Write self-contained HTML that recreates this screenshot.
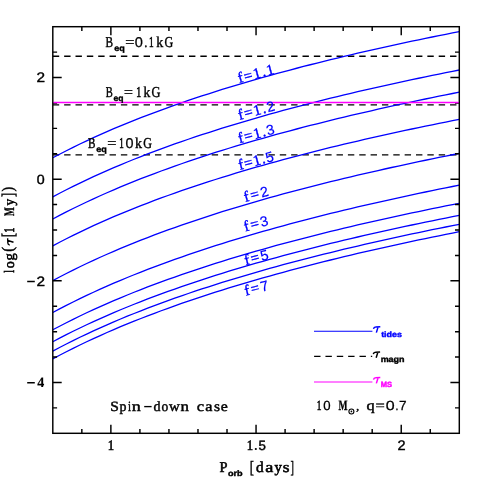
<!DOCTYPE html><html><head><meta charset="utf-8"><style>html,body{margin:0;padding:0;background:#fff}svg{display:block;will-change:transform;}text{text-rendering:geometricPrecision}</style></head><body>
<svg width="485" height="485" viewBox="0 0 485 485">
<rect width="485" height="485" fill="#fff"/>
<clipPath id="c"><rect x="52.8" y="26.7" width="406.5" height="406.6"/></clipPath>
<g stroke="#000" stroke-width="1.4" fill="none" stroke-dasharray="6.4 4.95">
<path d="M52.8 56.3H456.7"/>
<path d="M52.8 104.9H456.7"/>
<path d="M52.8 154.9H456.7"/>
</g>
<g stroke="#00f" stroke-width="1.3" fill="none" clip-path="url(#c)">
<path d="M52.80 157.80L59.57 154.21L66.35 150.73L73.12 147.34L79.90 144.03L86.68 140.82L93.45 137.68L100.22 134.62L107.00 131.64L113.77 128.72L120.55 125.87L127.32 123.09L134.10 120.36L140.88 117.69L147.65 115.08L154.42 112.53L161.20 110.02L167.98 107.56L174.75 105.16L181.53 102.79L188.30 100.47L195.07 98.19L201.85 95.96L208.62 93.76L215.40 91.60L222.18 89.48L228.95 87.39L235.73 85.34L242.50 83.32L249.27 81.34L256.05 79.38L262.83 77.45L269.60 75.56L276.37 73.69L283.15 71.85L289.93 70.04L296.70 68.25L303.48 66.49L310.25 64.75L317.02 63.03L323.80 61.34L330.58 59.67L337.35 58.03L344.12 56.40L350.90 54.80L357.67 53.22L364.45 51.65L371.23 50.11L378.00 48.58L384.78 47.08L391.55 45.59L398.32 44.12L405.10 42.66L411.88 41.22L418.65 39.80L425.43 38.40L432.20 37.01L438.98 35.63L445.75 34.27L452.53 32.93L459.30 31.60"/>
<path d="M52.80 196.90L59.57 193.29L66.35 189.79L73.12 186.38L79.90 183.06L86.68 179.82L93.45 176.67L100.22 173.59L107.00 170.59L113.77 167.66L120.55 164.79L127.32 161.99L134.10 159.25L140.88 156.57L147.65 153.95L154.42 151.38L161.20 148.86L167.98 146.39L174.75 143.96L181.53 141.59L188.30 139.25L195.07 136.96L201.85 134.72L208.62 132.51L215.40 130.34L222.18 128.20L228.95 126.10L235.73 124.04L242.50 122.01L249.27 120.01L256.05 118.04L262.83 116.11L269.60 114.20L276.37 112.32L283.15 110.47L289.93 108.65L296.70 106.85L303.48 105.08L310.25 103.33L317.02 101.61L323.80 99.91L330.58 98.23L337.35 96.57L344.12 94.94L350.90 93.33L357.67 91.74L364.45 90.16L371.23 88.61L378.00 87.08L384.78 85.56L391.55 84.06L398.32 82.58L405.10 81.12L411.88 79.68L418.65 78.25L425.43 76.84L432.20 75.44L438.98 74.06L445.75 72.69L452.53 71.34L459.30 70.00"/>
<path d="M52.80 219.05L59.57 215.44L66.35 211.94L73.12 208.53L79.90 205.21L86.68 201.97L93.45 198.82L100.22 195.74L107.00 192.74L113.77 189.81L120.55 186.94L127.32 184.14L134.10 181.40L140.88 178.72L147.65 176.10L154.42 173.53L161.20 171.01L167.98 168.54L174.75 166.11L181.53 163.74L188.30 161.40L195.07 159.11L201.85 156.87L208.62 154.66L215.40 152.49L222.18 150.35L228.95 148.25L235.73 146.19L242.50 144.16L249.27 142.16L256.05 140.19L262.83 138.26L269.60 136.35L276.37 134.47L283.15 132.62L289.93 130.80L296.70 129.00L303.48 127.23L310.25 125.48L317.02 123.76L323.80 122.06L330.58 120.38L337.35 118.72L344.12 117.09L350.90 115.48L357.67 113.89L364.45 112.31L371.23 110.76L378.00 109.23L384.78 107.71L391.55 106.21L398.32 104.73L405.10 103.27L411.88 101.83L418.65 100.40L425.43 98.99L432.20 97.59L438.98 96.21L445.75 94.84L452.53 93.49L459.30 92.15"/>
<path d="M52.80 245.85L59.57 242.25L66.35 238.76L73.12 235.36L79.90 232.05L86.68 228.83L93.45 225.68L100.22 222.62L107.00 219.62L113.77 216.70L120.55 213.85L127.32 211.05L134.10 208.32L140.88 205.65L147.65 203.03L154.42 200.47L161.20 197.96L167.98 195.49L174.75 193.08L181.53 190.71L188.30 188.39L195.07 186.10L201.85 183.86L208.62 181.66L215.40 179.50L222.18 177.37L228.95 175.28L235.73 173.22L242.50 171.20L249.27 169.20L256.05 167.24L262.83 165.31L269.60 163.41L276.37 161.54L283.15 159.69L289.93 157.88L296.70 156.08L303.48 154.32L310.25 152.58L317.02 150.86L323.80 149.16L330.58 147.49L337.35 145.84L344.12 144.21L350.90 142.60L357.67 141.02L364.45 139.45L371.23 137.90L378.00 136.37L384.78 134.86L391.55 133.37L398.32 131.90L405.10 130.44L411.88 129.00L418.65 127.57L425.43 126.16L432.20 124.77L438.98 123.39L445.75 122.03L452.53 120.68L459.30 119.35"/>
<path d="M52.80 280.60L59.57 276.99L66.35 273.47L73.12 270.05L79.90 266.72L86.68 263.48L93.45 260.32L100.22 257.24L107.00 254.23L113.77 251.29L120.55 248.42L127.32 245.61L134.10 242.86L140.88 240.18L147.65 237.55L154.42 234.97L161.20 232.44L167.98 229.97L174.75 227.54L181.53 225.16L188.30 222.82L195.07 220.52L201.85 218.27L208.62 216.05L215.40 213.88L222.18 211.74L228.95 209.64L235.73 207.57L242.50 205.53L249.27 203.53L256.05 201.56L262.83 199.62L269.60 197.71L276.37 195.82L283.15 193.97L289.93 192.14L296.70 190.34L303.48 188.56L310.25 186.81L317.02 185.08L323.80 183.38L330.58 181.70L337.35 180.04L344.12 178.40L350.90 176.78L357.67 175.19L364.45 173.61L371.23 172.05L378.00 170.52L384.78 169.00L391.55 167.50L398.32 166.01L405.10 164.55L411.88 163.10L418.65 161.67L425.43 160.25L432.20 158.85L438.98 157.47L445.75 156.10L452.53 154.74L459.30 153.40"/>
<path d="M52.80 312.55L59.57 308.93L66.35 305.41L73.12 301.99L79.90 298.65L86.68 295.41L93.45 292.24L100.22 289.15L107.00 286.14L113.77 283.19L120.55 280.32L127.32 277.51L134.10 274.76L140.88 272.06L147.65 269.43L154.42 266.85L161.20 264.32L167.98 261.84L174.75 259.40L181.53 257.02L188.30 254.68L195.07 252.38L201.85 250.12L208.62 247.90L215.40 245.72L222.18 243.58L228.95 241.47L235.73 239.40L242.50 237.36L249.27 235.36L256.05 233.38L262.83 231.44L269.60 229.53L276.37 227.64L283.15 225.78L289.93 223.95L296.70 222.15L303.48 220.37L310.25 218.61L317.02 216.88L323.80 215.18L330.58 213.49L337.35 211.83L344.12 210.19L350.90 208.57L357.67 206.97L364.45 205.39L371.23 203.83L378.00 202.29L384.78 200.77L391.55 199.27L398.32 197.78L405.10 196.32L411.88 194.87L418.65 193.43L425.43 192.01L432.20 190.61L438.98 189.22L445.75 187.85L452.53 186.49L459.30 185.15"/>
<path d="M52.80 329.80L59.57 326.20L66.35 322.71L73.12 319.31L79.90 316.00L86.68 312.78L93.45 309.63L100.22 306.57L107.00 303.57L113.77 300.65L120.55 297.80L127.32 295.00L134.10 292.27L140.88 289.60L147.65 286.98L154.42 284.42L161.20 281.91L167.98 279.44L174.75 277.03L181.53 274.66L188.30 272.34L195.07 270.05L201.85 267.81L208.62 265.61L215.40 263.45L222.18 261.32L228.95 259.23L235.73 257.17L242.50 255.15L249.27 253.15L256.05 251.19L262.83 249.26L269.60 247.36L276.37 245.49L283.15 243.64L289.93 241.83L296.70 240.03L303.48 238.27L310.25 236.53L317.02 234.81L323.80 233.11L330.58 231.44L337.35 229.79L344.12 228.16L350.90 226.55L357.67 224.97L364.45 223.40L371.23 221.85L378.00 220.32L384.78 218.81L391.55 217.32L398.32 215.85L405.10 214.39L411.88 212.95L418.65 211.52L425.43 210.11L432.20 208.72L438.98 207.34L445.75 205.98L452.53 204.63L459.30 203.30"/>
<path d="M52.80 341.75L59.57 338.16L66.35 334.67L73.12 331.27L79.90 327.96L86.68 324.74L93.45 321.60L100.22 318.54L107.00 315.55L113.77 312.62L120.55 309.77L127.32 306.98L134.10 304.25L140.88 301.58L147.65 298.97L154.42 296.40L161.20 293.89L167.98 291.43L174.75 289.02L181.53 286.65L188.30 284.33L195.07 282.05L201.85 279.81L208.62 277.61L215.40 275.45L222.18 273.32L228.95 271.23L235.73 269.18L242.50 267.15L249.27 265.16L256.05 263.21L262.83 261.28L269.60 259.38L276.37 257.51L283.15 255.66L289.93 253.85L296.70 252.06L303.48 250.29L310.25 248.55L317.02 246.83L323.80 245.14L330.58 243.47L337.35 241.82L344.12 240.19L350.90 238.59L357.67 237.00L364.45 235.43L371.23 233.89L378.00 232.36L384.78 230.85L391.55 229.36L398.32 227.89L405.10 226.43L411.88 224.99L418.65 223.57L425.43 222.16L432.20 220.77L438.98 219.39L445.75 218.03L452.53 216.68L459.30 215.35"/>
<path d="M52.80 351.10L59.57 347.50L66.35 343.99L73.12 340.59L79.90 337.27L86.68 334.04L93.45 330.89L100.22 327.81L107.00 324.81L113.77 321.88L120.55 319.02L127.32 316.22L134.10 313.48L140.88 310.80L147.65 308.18L154.42 305.61L161.20 303.09L167.98 300.63L174.75 298.20L181.53 295.83L188.30 293.50L195.07 291.21L201.85 288.96L208.62 286.76L215.40 284.59L222.18 282.46L228.95 280.36L235.73 278.30L242.50 276.27L249.27 274.27L256.05 272.31L262.83 270.37L269.60 268.47L276.37 266.59L283.15 264.74L289.93 262.92L296.70 261.12L303.48 259.35L310.25 257.60L317.02 255.88L323.80 254.18L330.58 252.51L337.35 250.85L344.12 249.22L350.90 247.61L357.67 246.02L364.45 244.45L371.23 242.90L378.00 241.36L384.78 239.85L391.55 238.35L398.32 236.88L405.10 235.41L411.88 233.97L418.65 232.54L425.43 231.13L432.20 229.73L438.98 228.35L445.75 226.99L452.53 225.64L459.30 224.30"/>
<path d="M52.80 358.90L59.57 355.29L66.35 351.77L73.12 348.35L79.90 345.02L86.68 341.78L93.45 338.62L100.22 335.54L107.00 332.53L113.77 329.59L120.55 326.72L127.32 323.91L134.10 321.16L140.88 318.48L147.65 315.85L154.42 313.27L161.20 310.74L167.98 308.27L174.75 305.84L181.53 303.46L188.30 301.12L195.07 298.82L201.85 296.57L208.62 294.35L215.40 292.18L222.18 290.04L228.95 287.94L235.73 285.87L242.50 283.83L249.27 281.83L256.05 279.86L262.83 277.92L269.60 276.01L276.37 274.12L283.15 272.27L289.93 270.44L296.70 268.64L303.48 266.86L310.25 265.11L317.02 263.38L323.80 261.68L330.58 260.00L337.35 258.34L344.12 256.70L350.90 255.08L357.67 253.49L364.45 251.91L371.23 250.35L378.00 248.82L384.78 247.30L391.55 245.80L398.32 244.31L405.10 242.85L411.88 241.40L418.65 239.97L425.43 238.55L432.20 237.15L438.98 235.77L445.75 234.40L452.53 233.04L459.30 231.70"/>
</g>
<g stroke="#000" stroke-width="1.45" fill="none">
<rect x="52.8" y="26.7" width="406.50" height="406.60"/>
<path d="M81.84 433.3v-4.3M81.84 26.7v4.3M110.87 433.3v-8.6M110.87 26.7v8.6M139.91 433.3v-4.3M139.91 26.7v4.3M168.94 433.3v-4.3M168.94 26.7v4.3M197.98 433.3v-4.3M197.98 26.7v4.3M227.01 433.3v-4.3M227.01 26.7v4.3M256.05 433.3v-8.6M256.05 26.7v8.6M285.09 433.3v-4.3M285.09 26.7v4.3M314.12 433.3v-4.3M314.12 26.7v4.3M343.16 433.3v-4.3M343.16 26.7v4.3M372.19 433.3v-4.3M372.19 26.7v4.3M401.23 433.3v-8.6M401.23 26.7v8.6M430.26 433.3v-4.3M430.26 26.7v4.3M52.8 407.89h4.3M459.3 407.89h-4.3M52.8 382.48h8.9M459.3 382.48h-8.9M52.8 357.06h4.3M459.3 357.06h-4.3M52.8 331.65h4.3M459.3 331.65h-4.3M52.8 306.24h4.3M459.3 306.24h-4.3M52.8 280.82h8.9M459.3 280.82h-8.9M52.8 255.41h4.3M459.3 255.41h-4.3M52.8 230.00h4.3M459.3 230.00h-4.3M52.8 204.59h4.3M459.3 204.59h-4.3M52.8 179.18h8.9M459.3 179.18h-8.9M52.8 153.76h4.3M459.3 153.76h-4.3M52.8 128.35h4.3M459.3 128.35h-4.3M52.8 102.94h4.3M459.3 102.94h-4.3M52.8 77.53h8.9M459.3 77.53h-8.9M52.8 52.11h4.3M459.3 52.11h-4.3"/>
</g>
<path d="M53.5 102.5H458.6" stroke="#f0f" stroke-width="1.45"/>
<text transform="translate(36.48 82.40) scale(1.113 1)" font-size="13.80" style="font-family:'Liberation Sans',sans-serif" fill="#000" stroke="#000" stroke-width="0.4">2</text>
<text transform="translate(36.76 183.59) scale(1.063 1)" font-size="13.36" style="font-family:'Liberation Sans',sans-serif" fill="#000" stroke="#000" stroke-width="0.4">0</text>
<text transform="translate(36.48 285.50) scale(1.125 1)" font-size="13.65" style="font-family:'Liberation Sans',sans-serif" fill="#000" stroke="#000" stroke-width="0.4">2</text>
<text transform="translate(37.20 387.40) scale(0.972 1)" font-size="14.44" style="font-family:'Liberation Serif',sans-serif" fill="#000" stroke="#000" stroke-width="0.1" font-weight="bold">4</text>
<path d="M27.2 281.6H34.8M27.2 382.7H34.8" stroke="#000" stroke-width="1.5"/>
<text transform="translate(107.70 450.00) scale(0.896 1)" font-size="14.29" style="font-family:'Liberation Serif',sans-serif" fill="#000" stroke="#000" stroke-width="0.6">1</text>
<text transform="translate(246.80 450.00) scale(0.896 1)" font-size="14.29" style="font-family:'Liberation Serif',sans-serif" fill="#000" stroke="#000" stroke-width="0.6">1</text>
<rect x="254.9" y="448.1" width="1.8" height="1.8"/>
<text transform="translate(258.59 449.79) scale(0.989 1)" font-size="13.36" style="font-family:'Liberation Sans',sans-serif" fill="#000" stroke="#000" stroke-width="0.45">5</text>
<text transform="translate(397.42 449.90) scale(1.052 1)" font-size="13.80" style="font-family:'Liberation Sans',sans-serif" fill="#000" stroke="#000" stroke-width="0.4">2</text>
<text transform="translate(114.28 51.099999999999994) scale(1.081 1)" font-size="8.4" style="font-family:'Liberation Sans',sans-serif" letter-spacing="0" fill="#000" stroke="#000" stroke-width="0.35" font-weight="bold">eq</text>
<text transform="translate(105.52 46.8) scale(0.755 1)" font-size="15" style="font-family:'Liberation Serif',sans-serif" letter-spacing="0" fill="#000" stroke="#000" stroke-width="0.42">B</text>
<text transform="translate(125.14 46.8) scale(1.081 1)" font-size="15" style="font-family:'Liberation Serif',sans-serif" letter-spacing="0" fill="#000" stroke="#000" stroke-width="0.42">=</text>
<text transform="translate(134.84 46.8) scale(1.030 1)" font-size="14.174999999999999" style="font-family:'Liberation Sans',sans-serif" letter-spacing="0" fill="#000" stroke="#000" stroke-width="0.25">0</text>
<text transform="translate(144.20 46.8) scale(0.853 1)" font-size="15" style="font-family:'Liberation Serif',sans-serif" letter-spacing="0" fill="#000" stroke="#000" stroke-width="0.42">.</text>
<text transform="translate(149.07 46.8) scale(0.622 1)" font-size="15" style="font-family:'Liberation Serif',sans-serif" letter-spacing="0" fill="#000" stroke="#000" stroke-width="0.62">1</text>
<text transform="translate(156.18 46.8) scale(0.936 1)" font-size="15" style="font-family:'Liberation Serif',sans-serif" letter-spacing="0" fill="#000" stroke="#000" stroke-width="0.42">k</text>
<text transform="translate(164.62 46.8) scale(0.804 1)" font-size="15" style="font-family:'Liberation Serif',sans-serif" letter-spacing="0" fill="#000" stroke="#000" stroke-width="0.42">G</text>
<text transform="translate(113.49 101.2) scale(1.025 1)" font-size="8.4" style="font-family:'Liberation Sans',sans-serif" letter-spacing="0" fill="#000" stroke="#000" stroke-width="0.35" font-weight="bold">eq</text>
<text transform="translate(105.64 96.9) scale(0.700 1)" font-size="15" style="font-family:'Liberation Serif',sans-serif" letter-spacing="0" fill="#000" stroke="#000" stroke-width="0.42">B</text>
<text transform="translate(124.06 96.9) scale(1.052 1)" font-size="15" style="font-family:'Liberation Serif',sans-serif" letter-spacing="0" fill="#000" stroke="#000" stroke-width="0.42">=</text>
<text transform="translate(136.33 96.9) scale(0.658 1)" font-size="15" style="font-family:'Liberation Serif',sans-serif" letter-spacing="0" fill="#000" stroke="#000" stroke-width="0.62">1</text>
<text transform="translate(143.39 96.9) scale(0.908 1)" font-size="15" style="font-family:'Liberation Serif',sans-serif" letter-spacing="0" fill="#000" stroke="#000" stroke-width="0.42">k</text>
<text transform="translate(151.61 96.9) scale(0.824 1)" font-size="15" style="font-family:'Liberation Serif',sans-serif" letter-spacing="0" fill="#000" stroke="#000" stroke-width="0.42">G</text>
<text transform="translate(96.28 152.3) scale(1.081 1)" font-size="8.4" style="font-family:'Liberation Sans',sans-serif" letter-spacing="0" fill="#000" stroke="#000" stroke-width="0.35" font-weight="bold">eq</text>
<text transform="translate(87.93 148.0) scale(0.744 1)" font-size="15" style="font-family:'Liberation Serif',sans-serif" letter-spacing="0" fill="#000" stroke="#000" stroke-width="0.42">B</text>
<text transform="translate(107.14 148.0) scale(1.081 1)" font-size="15" style="font-family:'Liberation Serif',sans-serif" letter-spacing="0" fill="#000" stroke="#000" stroke-width="0.42">=</text>
<text transform="translate(119.19 148.0) scale(0.604 1)" font-size="15" style="font-family:'Liberation Serif',sans-serif" letter-spacing="0" fill="#000" stroke="#000" stroke-width="0.62">1</text>
<text transform="translate(125.55 148.0) scale(1.016 1)" font-size="14.174999999999999" style="font-family:'Liberation Sans',sans-serif" letter-spacing="0" fill="#000" stroke="#000" stroke-width="0.25">0</text>
<text transform="translate(134.88 148.0) scale(0.936 1)" font-size="15" style="font-family:'Liberation Serif',sans-serif" letter-spacing="0" fill="#000" stroke="#000" stroke-width="0.42">k</text>
<text transform="translate(143.32 148.0) scale(0.804 1)" font-size="15" style="font-family:'Liberation Serif',sans-serif" letter-spacing="0" fill="#000" stroke="#000" stroke-width="0.42">G</text>
<text transform="translate(239.1 83.1) rotate(-15.0)" x="0.07" font-size="15" style="font-family:'Liberation Serif',serif" letter-spacing="1.233" fill="#00f" stroke="#00f" stroke-width="0.4">f=1.1</text>
<text transform="translate(239.4 120.0) rotate(-15.0)" x="0.07" font-size="15" style="font-family:'Liberation Serif',serif" letter-spacing="1.233" fill="#00f" stroke="#00f" stroke-width="0.4">f=1.<tspan style="font-family:'Liberation Sans',sans-serif" font-size="14.2" stroke-width="0.2">2</tspan></text>
<text transform="translate(239.4 143.2) rotate(-15.0)" x="0.07" font-size="15" style="font-family:'Liberation Serif',serif" letter-spacing="1.175" fill="#00f" stroke="#00f" stroke-width="0.4">f=1.<tspan style="font-family:'Liberation Sans',sans-serif" font-size="14.2" stroke-width="0.2">3</tspan></text>
<text transform="translate(239.6 170.0) rotate(-15.0)" x="0.07" font-size="15" style="font-family:'Liberation Serif',serif" letter-spacing="0.925" fill="#00f" stroke="#00f" stroke-width="0.4">f=1.<tspan style="font-family:'Liberation Sans',sans-serif" font-size="14.2" stroke-width="0.2">5</tspan></text>
<text transform="translate(245.2 202.0) rotate(-15)" x="0.07" font-size="15" style="font-family:'Liberation Serif',serif" letter-spacing="1.791" fill="#00f" stroke="#00f" stroke-width="0.4">f=<tspan style="font-family:'Liberation Sans',sans-serif" font-size="14.2" stroke-width="0.2">2</tspan></text>
<text transform="translate(245.2 231.4) rotate(-15)" x="0.07" font-size="15" style="font-family:'Liberation Serif',serif" letter-spacing="1.674" fill="#00f" stroke="#00f" stroke-width="0.4">f=<tspan style="font-family:'Liberation Sans',sans-serif" font-size="14.2" stroke-width="0.2">3</tspan></text>
<text transform="translate(245.8 265.2) rotate(-14.5)" x="0.07" font-size="15" style="font-family:'Liberation Serif',serif" letter-spacing="1.474" fill="#00f" stroke="#00f" stroke-width="0.4">f=<tspan style="font-family:'Liberation Sans',sans-serif" font-size="14.2" stroke-width="0.2">5</tspan></text>
<text transform="translate(245.8 295.7) rotate(-14)" x="0.07" font-size="15" style="font-family:'Liberation Serif',serif" letter-spacing="1.457" fill="#00f" stroke="#00f" stroke-width="0.4">f=<tspan style="font-family:'Liberation Sans',sans-serif" font-size="14.2" stroke-width="0.2">7</tspan></text>
<path d="M314 331.2H372.4" stroke="#00f" stroke-width="1.15"/>
<path d="M314.1 356.4H372.2" stroke="#000" stroke-width="1.25" stroke-dasharray="6.4 4.95"/>
<path d="M314 382.0H372.4" stroke="#f0f" stroke-width="1.15"/>
<path transform="translate(373.0 325.9)" d="M0.5 3.0Q0.9 1.05 2.6 1.05L7.3 0.85M5.1 1.0L3.35 6.7" fill="none" stroke="#00f" stroke-width="1.5" stroke-linecap="butt"/>
<path transform="translate(372.8 351.1)" d="M0.5 3.0Q0.9 1.05 2.6 1.05L7.3 0.85M5.1 1.0L3.35 6.7" fill="none" stroke="#000" stroke-width="1.5" stroke-linecap="butt"/>
<path transform="translate(373.0 376.7)" d="M0.5 3.0Q0.9 1.05 2.6 1.05L7.3 0.85M5.1 1.0L3.35 6.7" fill="none" stroke="#f0f" stroke-width="1.5" stroke-linecap="butt"/>
<text transform="translate(381.14 336.5) scale(1.142 1)" font-size="7.8" style="font-family:'Liberation Sans',sans-serif" letter-spacing="0" fill="#00f" stroke="#00f" stroke-width="0.4" font-weight="bold">tides</text>
<text transform="translate(380.65 361.6) scale(1.095 1)" font-size="8.2" style="font-family:'Liberation Sans',sans-serif" letter-spacing="0" fill="#000" stroke="#000" stroke-width="0.4" font-weight="bold">magn</text>
<text transform="translate(380.70 387.4) scale(0.997 1)" font-size="7.6" style="font-family:'Liberation Sans',sans-serif" letter-spacing="0" fill="#f0f" stroke="#f0f" stroke-width="0.4" font-weight="bold">MS</text>
<text transform="translate(110.33 410.9) scale(1.095 1)" font-size="14.2" style="font-family:'Liberation Serif',sans-serif" letter-spacing="0" fill="#000" stroke="#000" stroke-width="0.42">S</text>
<text transform="translate(119.58 410.9) scale(0.979 1)" font-size="14.2" style="font-family:'Liberation Serif',sans-serif" letter-spacing="0" fill="#000" stroke="#000" stroke-width="0.42">p</text>
<text transform="translate(127.93 410.9) scale(0.761 1)" font-size="14.2" style="font-family:'Liberation Serif',sans-serif" letter-spacing="0" fill="#000" stroke="#000" stroke-width="0.42">i</text>
<text transform="translate(131.82 410.9) scale(1.279 1)" font-size="14.2" style="font-family:'Liberation Serif',sans-serif" letter-spacing="0" fill="#000" stroke="#000" stroke-width="0.42">n</text>
<text transform="translate(153.46 410.9) scale(0.992 1)" font-size="14.2" style="font-family:'Liberation Serif',sans-serif" letter-spacing="0" fill="#000" stroke="#000" stroke-width="0.42">d</text>
<text transform="translate(161.38 410.9) scale(0.950 1)" font-size="14.2" style="font-family:'Liberation Serif',sans-serif" letter-spacing="0" fill="#000" stroke="#000" stroke-width="0.42">o</text>
<text transform="translate(168.90 410.9) scale(1.048 1)" font-size="14.2" style="font-family:'Liberation Serif',sans-serif" letter-spacing="0" fill="#000" stroke="#000" stroke-width="0.42">w</text>
<text transform="translate(180.44 410.9) scale(1.192 1)" font-size="14.2" style="font-family:'Liberation Serif',sans-serif" letter-spacing="0" fill="#000" stroke="#000" stroke-width="0.42">n</text>
<text transform="translate(196.68 410.9) scale(1.172 1)" font-size="14.2" style="font-family:'Liberation Serif',sans-serif" letter-spacing="0" fill="#000" stroke="#000" stroke-width="0.42">c</text>
<text transform="translate(205.19 410.9) scale(1.144 1)" font-size="14.2" style="font-family:'Liberation Serif',sans-serif" letter-spacing="0" fill="#000" stroke="#000" stroke-width="0.42">a</text>
<text transform="translate(213.91 410.9) scale(1.095 1)" font-size="14.2" style="font-family:'Liberation Serif',sans-serif" letter-spacing="0" fill="#000" stroke="#000" stroke-width="0.42">s</text>
<text transform="translate(220.80 410.9) scale(1.118 1)" font-size="14.2" style="font-family:'Liberation Serif',sans-serif" letter-spacing="0" fill="#000" stroke="#000" stroke-width="0.42">e</text>
<path d="M144.2 406.6H151.6" stroke="#000" stroke-width="1.35"/>
<text transform="translate(316.77 410.1) scale(0.667 1)" font-size="14.0" style="font-family:'Liberation Serif',sans-serif" letter-spacing="0" fill="#000" stroke="#000" stroke-width="0.62">1</text>
<text transform="translate(323.29 410.1) scale(0.998 1)" font-size="13.229999999999999" style="font-family:'Liberation Sans',sans-serif" letter-spacing="0" fill="#000" stroke="#000" stroke-width="0.25">0</text>
<text transform="translate(366.39 410.1) scale(1.167 1)" font-size="14.0" style="font-family:'Liberation Serif',sans-serif" letter-spacing="0" fill="#000" stroke="#000" stroke-width="0.42">q</text>
<text transform="translate(375.43 410.1) scale(1.173 1)" font-size="14.0" style="font-family:'Liberation Serif',sans-serif" letter-spacing="0" fill="#000" stroke="#000" stroke-width="0.42">=</text>
<text transform="translate(385.70 410.1) scale(1.209 1)" font-size="13.229999999999999" style="font-family:'Liberation Sans',sans-serif" letter-spacing="0" fill="#000" stroke="#000" stroke-width="0.25">0</text>
<text transform="translate(395.80 410.1) scale(0.686 1)" font-size="14.0" style="font-family:'Liberation Serif',sans-serif" letter-spacing="0" fill="#000" stroke="#000" stroke-width="0.42">.</text>
<text transform="translate(398.96 410.1) scale(1.032 1)" font-size="13.229999999999999" style="font-family:'Liberation Sans',sans-serif" letter-spacing="0" fill="#000" stroke="#000" stroke-width="0.25">7</text>
<text transform="translate(338.45 410.40) scale(0.670 1)" font-size="14.32" style="font-family:'Liberation Serif',sans-serif" fill="#000" stroke="#000" stroke-width="0.3" font-weight="bold">M</text>
<circle cx="351.4" cy="411.45" r="2.5" fill="none" stroke="#000" stroke-width="1.1"/><circle cx="351.4" cy="411.45" r="0.85"/>
<text transform="translate(356.24 410.49) scale(1.055 1)" font-size="10.92" style="font-family:'Liberation Serif',sans-serif" fill="#000" stroke="#000" stroke-width="0.5">,</text>
<text transform="translate(219.38 472.1) scale(0.957 1)" font-size="15" style="font-family:'Liberation Serif',sans-serif" letter-spacing="0" fill="#000" stroke="#000" stroke-width="0.55">P</text>
<text transform="translate(256.02 472.1) scale(1.024 1)" font-size="15" style="font-family:'Liberation Serif',sans-serif" letter-spacing="0" fill="#000" stroke="#000" stroke-width="0.55">d</text>
<text transform="translate(265.13 472.1) scale(1.214 1)" font-size="15" style="font-family:'Liberation Serif',sans-serif" letter-spacing="0" fill="#000" stroke="#000" stroke-width="0.55">a</text>
<text transform="translate(274.60 472.1) scale(0.987 1)" font-size="15" style="font-family:'Liberation Serif',sans-serif" letter-spacing="0" fill="#000" stroke="#000" stroke-width="0.55">y</text>
<text transform="translate(282.86 472.1) scale(1.158 1)" font-size="15" style="font-family:'Liberation Serif',sans-serif" letter-spacing="0" fill="#000" stroke="#000" stroke-width="0.55">s</text>
<text transform="translate(249.80 472.75) scale(0.735 1)" font-size="17.42" style="font-family:'Liberation Serif',sans-serif" fill="#000" stroke="#000" stroke-width="0.45">[</text>
<text transform="translate(290.58 472.75) scale(0.588 1)" font-size="17.42" style="font-family:'Liberation Serif',sans-serif" fill="#000" stroke="#000" stroke-width="0.45">]</text>
<text transform="translate(227.96 476.3) scale(1.138 1)" font-size="8.0" style="font-family:'Liberation Sans',sans-serif" letter-spacing="0" fill="#000" stroke="#000" stroke-width="0.4" font-weight="bold">orb</text>
<g transform="translate(13.7 272.8) rotate(-90)">
<text transform="translate(0.14 0) scale(0.690 1)" font-size="14.5" style="font-family:'Liberation Serif',sans-serif" letter-spacing="0" fill="#000" stroke="#000" stroke-width="0.55">l</text>
<text transform="translate(4.56 0) scale(0.962 1)" font-size="14.5" style="font-family:'Liberation Serif',sans-serif" letter-spacing="0" fill="#000" stroke="#000" stroke-width="0.55">o</text>
<text transform="translate(12.24 0) scale(1.005 1)" font-size="14.5" style="font-family:'Liberation Serif',sans-serif" letter-spacing="0" fill="#000" stroke="#000" stroke-width="0.55">g</text>
<text transform="translate(40.35 0) scale(0.662 1)" font-size="14.5" style="font-family:'Liberation Serif',sans-serif" letter-spacing="0" fill="#000" stroke="#000" stroke-width="0.75">1</text>
<text transform="translate(67.30 0) scale(0.910 1)" font-size="14.5" style="font-family:'Liberation Serif',sans-serif" letter-spacing="0" fill="#000" stroke="#000" stroke-width="0.55">y</text>
<text transform="translate(21.06 -0.46) scale(0.874 1)" font-size="16.27" style="font-family:'Liberation Serif',sans-serif" fill="#000" stroke="#000" stroke-width="0.5">(</text>
<text transform="translate(35.60 0.60) scale(0.720 1)" font-size="17.78" style="font-family:'Liberation Serif',sans-serif" fill="#000" stroke="#000" stroke-width="0.5">[</text>
<text transform="translate(75.70 0.60) scale(0.720 1)" font-size="17.78" style="font-family:'Liberation Serif',sans-serif" fill="#000" stroke="#000" stroke-width="0.5">]</text>
<text transform="translate(81.36 -0.46) scale(0.856 1)" font-size="16.27" style="font-family:'Liberation Serif',sans-serif" fill="#000" stroke="#000" stroke-width="0.5">)</text>
<text transform="translate(56.85 -0.10) scale(0.648 1)" font-size="14.48" style="font-family:'Liberation Serif',sans-serif" fill="#000" stroke="#000" stroke-width="0.35" font-weight="bold">M</text>
<path transform="translate(27.2 -6.9)" d="M0.5 3.0Q0.9 1.05 2.6 1.05L7.3 0.85M5.1 1.0L3.35 6.7" fill="none" stroke="#000" stroke-width="1.4" stroke-linecap="butt"/>
</g>
</svg></body></html>
